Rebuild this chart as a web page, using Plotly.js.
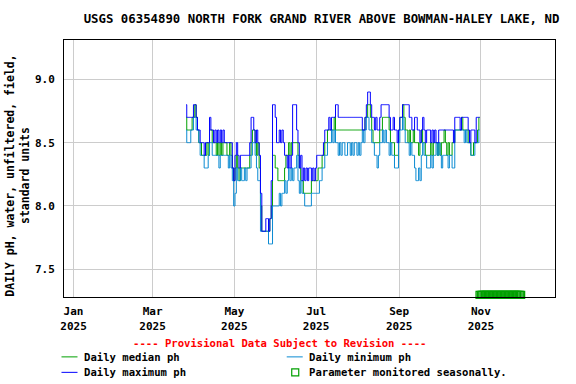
<!DOCTYPE html>
<html>
<head>
<meta charset="utf-8">
<script src="https://cdn.plot.ly/plotly-3.0.1.min.js"></script>
<style>html,body{margin:0;padding:0;background:#fff;}#chart{width:576px;height:384px;}</style>
</head>
<body>
<div id="chart"></div>
<script>
// Daily values starting 2025-03-26 (one value per day)
const seriesStart = [2025, 2, 26];
const dailyMax = [
  8.8,8.7,8.7,8.7,8.7,8.7,8.8,8.8,8.7,8.6,8.6,
  8.5,8.5,8.5,8.4,8.5,8.5,8.5,8.7,8.6,8.6,8.5,
  8.6,8.5,8.6,8.5,8.6,8.5,8.6,8.5,8.5,8.5,8.5,8.5,8.5,
  8.3,8.2,8.4,8.5,8.4,8.3,8.4,8.4,8.4,
  8.4,8.4,8.4,8.4,8.5,8.7,8.7,8.6,8.5,8.6,8.5,8.4,8.1,
  7.8,7.8,7.8,7.9,7.9,7.8,7.9,8.2,8.8,8.8,8.7,8.5,
  8.5,8.6,8.5,8.6,8.5,8.4,8.4,8.3,8.4,8.3,8.4,8.8,8.8,8.8,8.6,
  8.5,8.3,8.4,8.2,8.3,8.2,8.3,8.2,8.3,8.3,8.2,8.3,8.2,8.3,8.4,8.4,8.4,
  8.4,8.4,8.5,8.6,8.6,8.6,8.7,8.6,8.7,8.7,8.7,8.8,8.8,8.7,
  8.7,8.7,8.7,8.7,8.7,8.7,8.7,8.7,8.7,8.7,8.7,8.7,8.7,8.7,8.7,8.7,8.7,
  8.6,8.6,8.7,8.8,8.9,8.9,
  8.8,8.7,8.7,8.6,8.7,8.6,8.6,8.7,8.8,8.8,8.8,8.8,8.8,8.8,8.7,8.6,8.6,8.7,8.6,8.6,8.5,8.6,8.7,
  8.7,8.8,8.8,8.8,8.8,8.8,8.7,8.7,8.6,8.6,8.7,8.7,8.6,8.6,8.5,
  8.6,8.7,8.6,8.5,8.6,8.6,8.6,8.5,8.6,8.5,8.6,8.5,8.5,
  8.6,8.6,8.6,8.6,8.6,8.6,8.6,8.6,8.6,8.6,8.6,
  8.5,8.7,8.7,8.7,8.7,8.6,8.7,8.7,8.7,8.7,8.7,8.6,8.5,8.6,8.6,8.6,8.5,8.7,8.7,8.7
];
const dailyMedian = [
  8.7,8.6,8.6,8.6,8.6,8.7,8.7,8.8,8.7,8.6,8.5,
  8.5,8.4,8.4,8.4,8.4,8.5,8.4,8.6,8.6,8.5,8.5,
  8.5,8.4,8.5,8.4,8.5,8.4,8.5,8.5,8.5,8.4,8.4,8.5,8.4,
  8.3,8.2,8.3,8.4,8.3,8.2,8.3,8.3,8.3,
  8.3,8.3,8.3,8.3,8.4,8.5,8.6,8.6,8.5,8.4,8.5,8.3,8.0,
  7.8,7.8,7.8,7.8,7.8,7.8,7.9,8.0,8.4,8.4,8.3,8.3,
  8.2,8.2,8.2,8.2,8.2,8.3,8.4,8.4,8.5,8.4,8.5,8.5,8.5,8.5,8.5,
  8.4,8.3,8.2,8.2,8.1,8.1,8.1,8.1,8.1,8.1,8.2,8.2,8.2,8.2,8.2,8.3,8.3,
  8.3,8.4,8.4,8.5,8.5,8.6,8.6,8.6,8.6,8.6,8.7,8.6,8.6,
  8.6,8.6,8.6,8.6,8.6,8.6,8.6,8.6,8.6,8.6,8.6,8.6,8.6,8.6,8.6,8.6,8.6,8.6,
  8.6,8.6,8.7,8.7,8.8,8.8,
  8.7,8.6,8.5,8.5,8.5,8.5,8.5,8.6,8.6,8.7,8.7,8.7,8.7,8.7,8.6,8.5,8.5,8.5,8.4,8.4,8.4,8.6,8.7,
  8.7,8.8,8.7,8.6,8.6,8.5,8.6,8.5,8.5,8.6,8.5,8.5,8.5,8.4,8.5,
  8.6,8.5,8.5,8.4,8.4,8.4,8.4,8.5,8.4,8.5,8.5,8.5,8.4,8.5,8.4,8.5,8.5,8.6,8.5,8.4,
  8.5,8.4,8.4,8.5,8.5,8.6,8.6,8.6,8.6,8.6,8.7,8.6,8.6,8.6,8.6,8.5,8.5,8.4,8.4,8.5,
  8.5,8.5,8.6,8.7
];
const dailyMin = [
  8.6,8.5,8.5,8.5,8.6,8.6,8.7,8.7,8.6,8.6,8.5,
  8.4,8.4,8.4,8.3,8.3,8.3,8.4,8.5,8.5,8.4,8.4,
  8.4,8.4,8.4,8.3,8.4,8.4,8.4,8.4,8.4,8.4,8.3,8.4,8.3,
  8.2,8.0,8.1,8.3,8.2,8.2,8.3,8.2,8.2,
  8.3,8.2,8.3,8.3,8.3,8.4,8.5,8.5,8.4,8.3,8.2,8.2,7.8,
  7.8,7.8,7.8,7.8,7.8,7.7,7.7,7.7,8.0,8.0,8.0,8.0,
  8.0,8.1,8.0,8.1,8.1,8.2,8.1,8.2,8.3,8.2,8.3,8.2,8.3,8.3,8.4,
  8.2,8.1,8.2,8.1,8.1,8.0,8.0,8.0,8.0,8.0,8.1,8.1,8.1,8.1,8.1,8.1,8.2,
  8.2,8.3,8.3,8.4,8.4,8.5,8.5,8.5,8.6,8.5,8.6,8.5,8.5,8.4,8.5,8.4,8.5,8.5,8.4,8.4,
  8.5,8.5,8.4,8.5,8.4,8.5,8.5,8.4,8.5,8.4,8.5,8.6,8.5,8.6,8.7,8.7,8.6,
  8.6,8.5,8.5,8.4,8.4,8.3,8.4,8.5,8.5,8.6,8.5,8.6,8.5,8.5,8.4,8.5,8.4,8.4,8.3,8.3,8.3,8.5,8.6,
  8.6,8.7,8.6,8.5,8.5,8.5,8.4,8.5,8.4,8.4,8.3,8.2,8.2,8.3,8.2,
  8.4,8.5,8.4,8.4,8.3,8.3,8.3,8.4,8.3,8.4,8.4,8.5,8.4,8.5,8.4,8.3,8.4,8.4,8.4,8.4,
  8.3,8.4,8.4,8.3,8.3,8.6,8.6,8.6,8.6,8.6,8.6,8.6,8.5,8.6,8.5,8.5,8.5,8.4,8.4,8.4,
  8.5,8.5,8.5,8.6
];
// Seasonal monitoring marker span
const seasonStart = [2025, 9, 31];
const seasonEnd = [2025, 11, 1];
const tickDates = ['2025-01-01','2025-03-01','2025-05-01','2025-07-01','2025-09-01','2025-11-01'];
const tickLabels = ['Jan<br>2025','Mar<br>2025','May<br>2025','Jul<br>2025','Sep<br>2025','Nov<br>2025'];
const yTicks = [7.5, 8.0, 8.5, 9.0];
const yTickLabels = ['7.5','8.0','8.5','9.0'];

function dayStr(y, m, d) {
  return new Date(Date.UTC(y, m, d)).toISOString().slice(0, 10);
}
const dates = dailyMax.map((_, i) => dayStr(seriesStart[0], seriesStart[1], seriesStart[2] + i));
const seasonDates = [];
{
  const endT = Date.UTC(seasonEnd[0], seasonEnd[1], seasonEnd[2]);
  for (let i = 0; ; i++) {
    const t = Date.UTC(seasonStart[0], seasonStart[1], seasonStart[2] + i);
    if (t > endT) break;
    seasonDates.push(new Date(t).toISOString().slice(0, 10));
  }
}

const FONT = 'DejaVu Sans Mono, Liberation Mono, monospace';
const C_MED = '#00a000', C_MAX = '#0000ff', C_MIN = '#0a8ad2';

const traces = [
  {x: dates, y: dailyMedian, type: 'scatter', mode: 'lines', line: {color: C_MED, width: 1, shape: 'hvh'}, hoverinfo: 'skip'},
  {x: dates, y: dailyMin, type: 'scatter', mode: 'lines', line: {color: C_MIN, width: 1, shape: 'hvh'}, hoverinfo: 'skip'},
  {x: dates, y: dailyMax, type: 'scatter', mode: 'lines', line: {color: C_MAX, width: 1, shape: 'hvh'}, hoverinfo: 'skip'},
  {x: seasonDates, y: seasonDates.map(() => 7.297), type: 'scatter', mode: 'markers', cliponaxis: false,
   marker: {symbol: 'square-open', size: 7, color: C_MED, line: {color: C_MED, width: 1.3}}, hoverinfo: 'skip'}
];

const L = 64.5, R = 555, T = 39.5, B = 297;
const px = v => (v - L) / (R - L);
const py = v => (B - v) / (B - T);
const legFont = {family: FONT, size: 10.6, color: '#000', weight: 'bold'};

const layout = {
  width: 576, height: 384,
  margin: {l: 64, r: 21, t: 40, b: 87, pad: 0},
  paper_bgcolor: '#fff', plot_bgcolor: '#fff',
  showlegend: false,
  title: {text: 'USGS 06354890 NORTH FORK GRAND RIVER ABOVE BOWMAN-HALEY LAKE, ND',
          x: 321.5 / 576, xref: 'container', xanchor: 'center', y: 1 - 19 / 384, yref: 'container', yanchor: 'middle',
          font: {family: FONT, size: 12.35, color: '#000', weight: 'bold'}},
  xaxis: {type: 'date', range: ['2024-12-24 21:36', '2025-12-26 07:00'],
          tickmode: 'array', tickvals: tickDates, ticktext: tickLabels,
          showgrid: true, gridcolor: '#cccccc', gridwidth: 1, zeroline: false,
          showline: true, mirror: true, linecolor: '#000', linewidth: 1, ticks: '',
          ticklabelstandoff: 4,
          tickfont: {family: FONT, size: 11, color: '#000', weight: 'bold'}},
  yaxis: {range: [7.281, 9.311], tickmode: 'array', tickvals: yTicks, ticktext: yTickLabels,
          showgrid: true, gridcolor: '#cccccc', gridwidth: 1, zeroline: false,
          showline: true, mirror: true, linecolor: '#000', linewidth: 1, ticks: '',
          ticklabelstandoff: 6,
          tickfont: {family: FONT, size: 11, color: '#000', weight: 'bold'}},
  annotations: [
    {text: 'DAILY pH, water, unfiltered, field,<br>standard units', textangle: -90,
     xref: 'paper', yref: 'paper', x: px(18), y: py(175), xanchor: 'center', yanchor: 'middle',
     showarrow: false, font: {family: FONT, size: 11.5, color: '#000', weight: 'bold'}},
    {text: '---- Provisional Data Subject to Revision ----', xref: 'paper', yref: 'paper',
     x: px(280), y: py(343), xanchor: 'center', yanchor: 'middle', showarrow: false,
     font: {family: FONT, size: 10.6, color: '#ff0000', weight: 'bold'}},
    {text: 'Daily median ph', xref: 'paper', yref: 'paper', x: px(82), y: py(357), xanchor: 'left', yanchor: 'middle', showarrow: false, font: legFont},
    {text: 'Daily maximum ph', xref: 'paper', yref: 'paper', x: px(82), y: py(372.5), xanchor: 'left', yanchor: 'middle', showarrow: false, font: legFont},
    {text: 'Daily minimum ph', xref: 'paper', yref: 'paper', x: px(307), y: py(357), xanchor: 'left', yanchor: 'middle', showarrow: false, font: legFont},
    {text: 'Parameter monitored seasonally.', xref: 'paper', yref: 'paper', x: px(307), y: py(372.5), xanchor: 'left', yanchor: 'middle', showarrow: false, font: legFont}
  ],
  shapes: [
    {type: 'line', xref: 'paper', yref: 'paper', x0: px(62), x1: px(78), y0: py(357), y1: py(357), line: {color: C_MED, width: 1}},
    {type: 'line', xref: 'paper', yref: 'paper', x0: px(62), x1: px(78), y0: py(372.5), y1: py(372.5), line: {color: C_MAX, width: 1}},
    {type: 'line', xref: 'paper', yref: 'paper', x0: px(287), x1: px(303), y0: py(357), y1: py(357), line: {color: C_MIN, width: 1}},
    {type: 'rect', xref: 'paper', yref: 'paper', x0: px(292), x1: px(299), y0: py(376), y1: py(369), line: {color: C_MED, width: 1.2}, fillcolor: 'rgba(0,0,0,0)'}
  ]
};

Plotly.newPlot('chart', traces, layout, {staticPlot: true, displayModeBar: false});
</script>
</body>
</html>
